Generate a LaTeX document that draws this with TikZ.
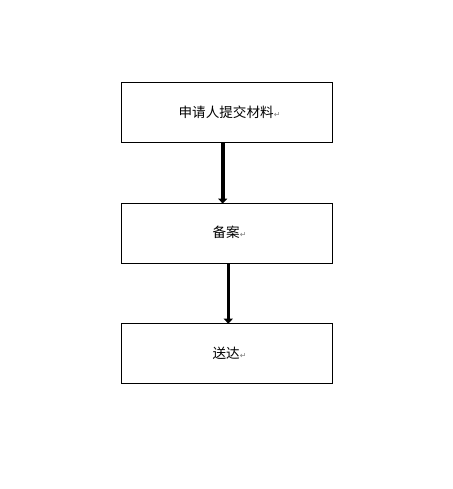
\documentclass[tikz,border=0pt]{standalone}
\usepackage{fontspec}
\newfontfamily\cjk{Noto Sans CJK SC}
\newfontfamily\sym{DejaVu Sans}
\usetikzlibrary{arrows.meta}
\tikzset{
  box/.style={draw=black, line width=1.2pt, minimum width=210.5pt, minimum height=60pt, inner sep=0pt},
  label/.style={font=\cjk\fontsize{13.6pt}{16pt}\selectfont, inner sep=0pt},
  flow/.style={line width=3.6pt, -{Triangle[length=5pt,width=9pt]}, shorten >=-0.5pt}
}
\newcommand{\retmark}{{\sym\fontsize{8pt}{8pt}\selectfont\color{gray}↵}}
\begin{document}
\begin{tikzpicture}[x=1pt,y=-1pt]
\useasboundingbox (0,0) rectangle (452,489);
\fill[white] (0,0) rectangle (452,489);
\node[box] (a) at (227,112.7) {};
\node[box] (b) at (227,233.7) {};
\node[box] (c) at (227,353.8) {};
\node[label] (ta) at ([xshift=2.5pt]a.center) {申请人提交材料\retmark};
\node[label] (tb) at ([xshift=2.5pt,yshift=1pt]b.center) {备案\retmark};
\node[label] (tc) at ([xshift=2.5pt]c.center) {送达\retmark};
\draw[flow] (a.south -| 222.7,0) -- (b.north -| 222.7,0);
\draw[flow] (b.south -| 228.3,0) -- (c.north -| 228.3,0);
\end{tikzpicture}
\end{document}
